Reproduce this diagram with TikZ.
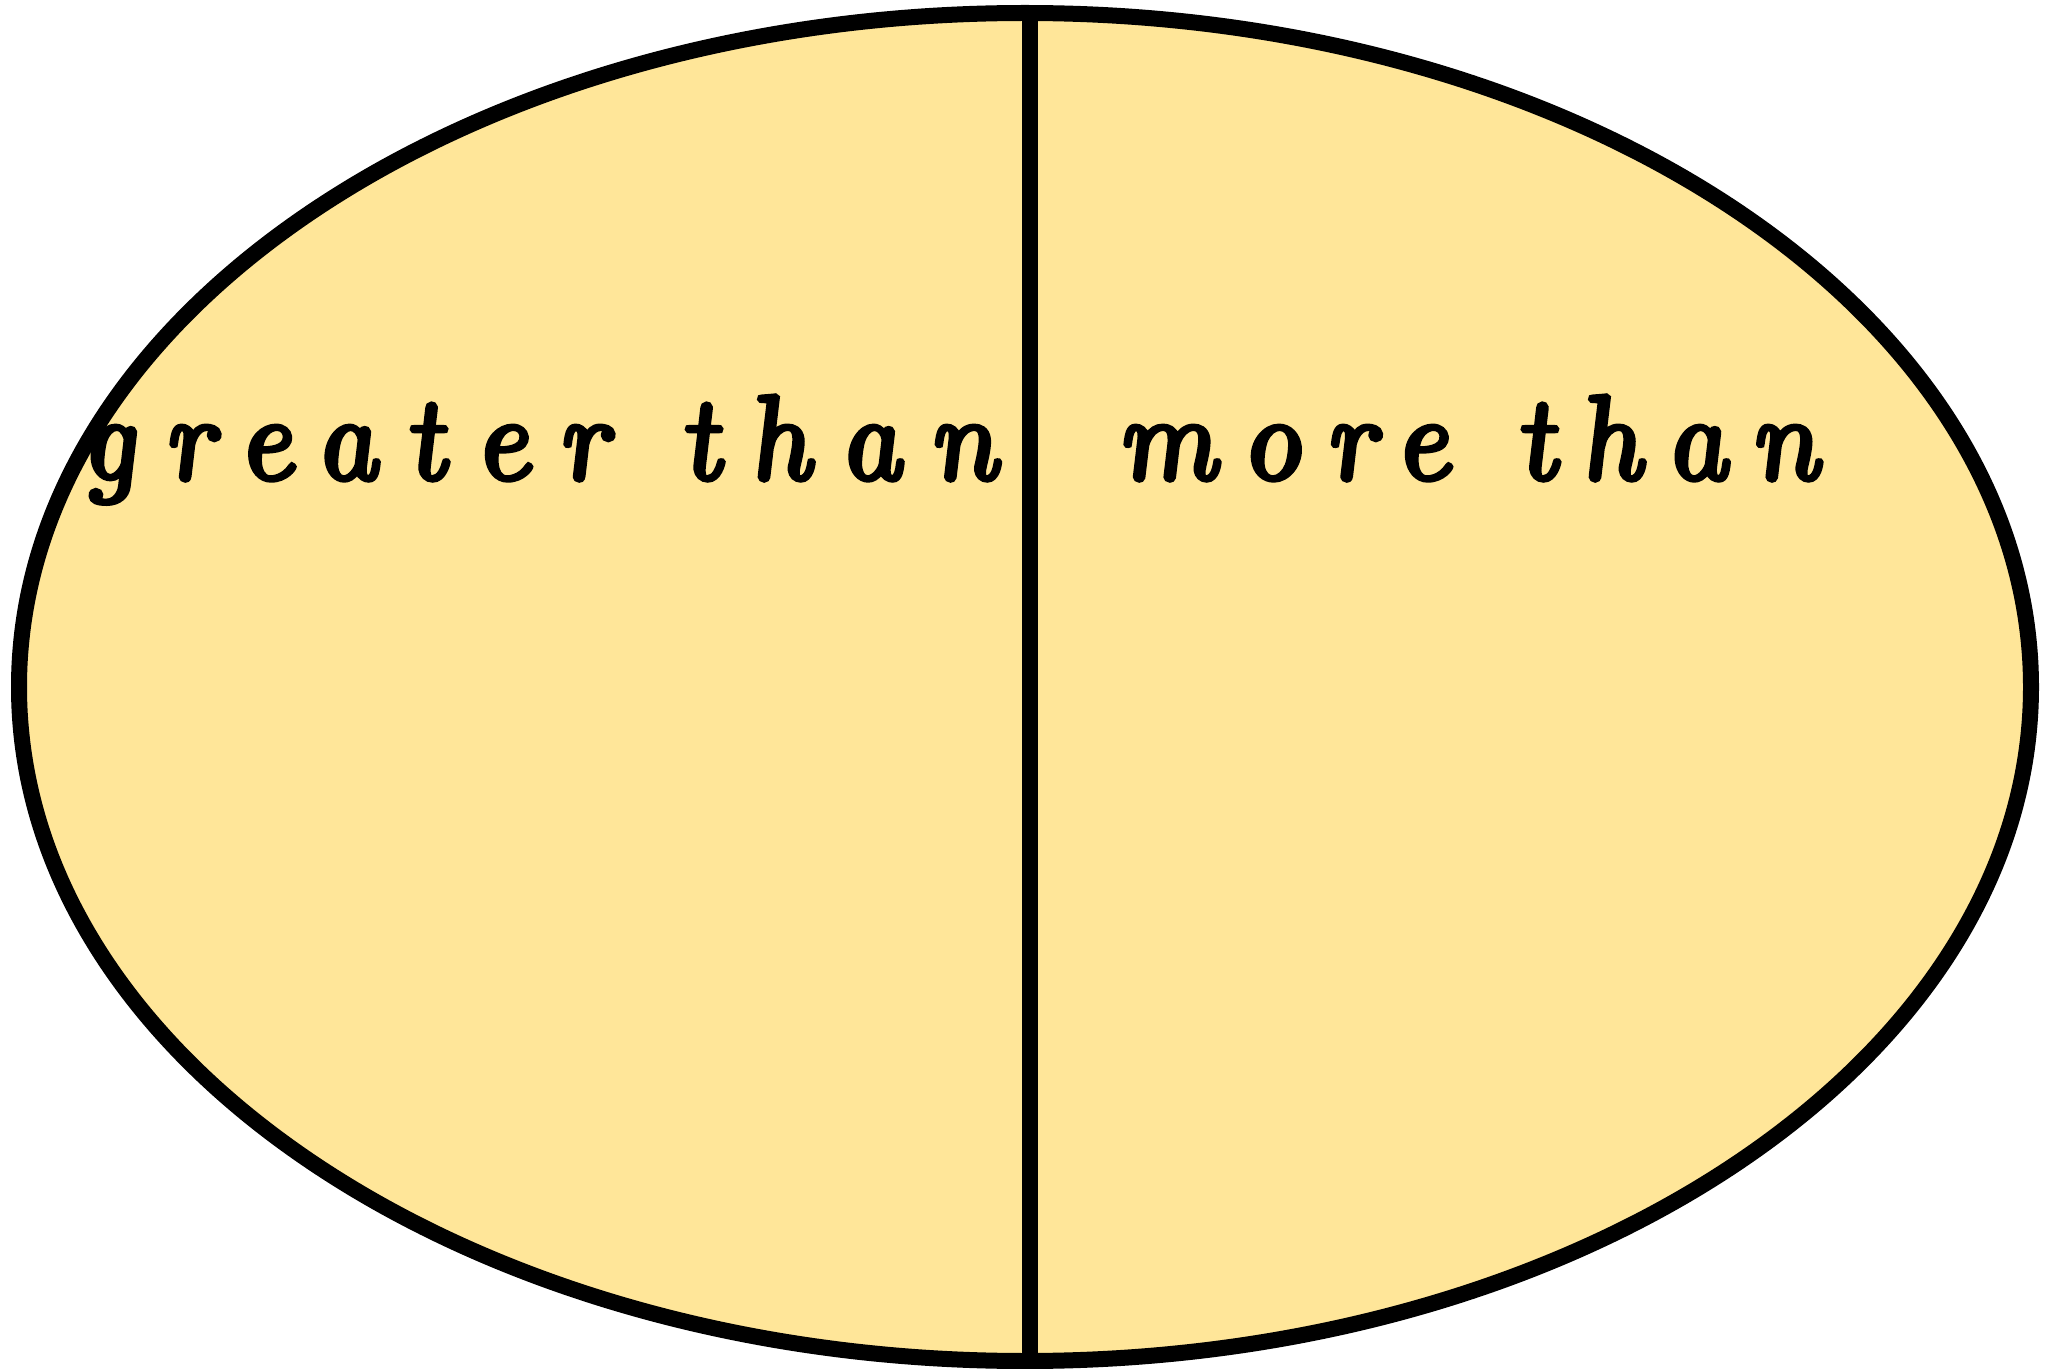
\documentclass[tikz,border=0pt]{standalone}
\usepackage{fontspec}
\newfontfamily\handfont[FakeBold=4]{lmroman10-italic.otf}
\definecolor{ovalfill}{HTML}{FFE699}
\tikzset{
  ovalline/.style={line width=8pt, draw=black},
  handtext/.style={anchor=base west, inner sep=0pt, xslant=-0.13, transform shape,
    font=\handfont\fontsize{60}{64}\selectfont}
}
\begin{document}
\begin{tikzpicture}[x=0.5pt,y=-0.5pt]
\useasboundingbox (0,0) rectangle (2058,1369);
\fill[ovalfill] (1025,687) ellipse [x radius=1006, y radius=674];
\draw[ovalline] (1030,8) -- (1030,1369);
\draw[ovalline] (1025,687) ellipse [x radius=1006, y radius=674];
\node[handtext] (greater) at (82,479) {\addfontfeature{LetterSpace=24}greater than};
\node[handtext] (more) at (1120,479) {\addfontfeature{LetterSpace=20}more than};
\end{tikzpicture}
\end{document}
